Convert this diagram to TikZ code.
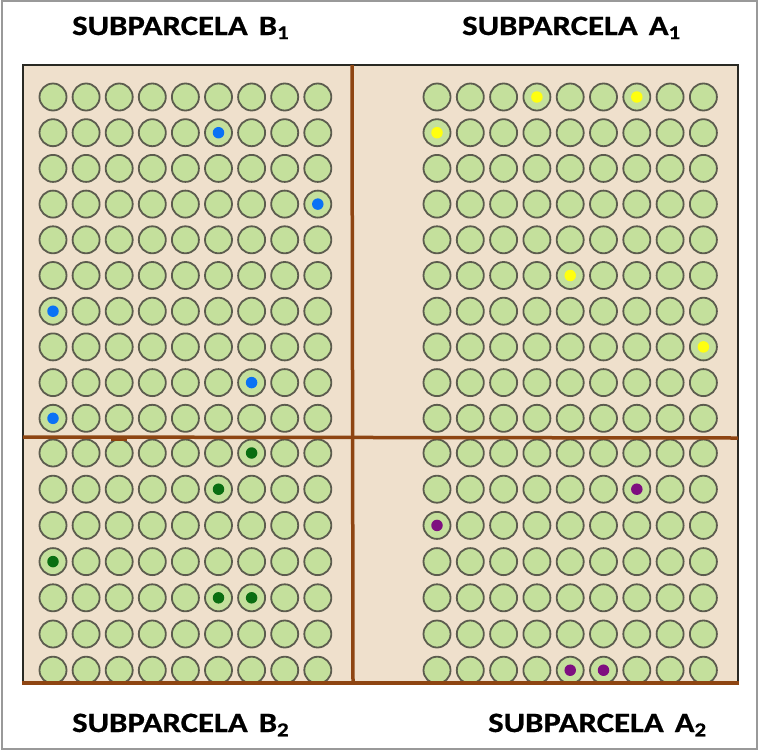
\documentclass[tikz,border=0pt]{standalone}
\usepackage{fontspec}
\setmainfont{Carlito}
\newfontfamily\titlefont[FakeStretch=1.17,FakeBold=0.6]{Carlito}
\definecolor{soil}{HTML}{EFE0CC}
\definecolor{plant}{HTML}{C4E09C}
\definecolor{rim}{HTML}{5C5C4E}
\definecolor{fence}{HTML}{8E4512}
\definecolor{mkblue}{HTML}{0A72F5}
\definecolor{mkyellow}{HTML}{FFFF10}
\definecolor{mkgreen}{HTML}{0A6E12}
\definecolor{mkpurple}{HTML}{7E0F80}
\tikzset{
  plantc/.style={draw=rim,fill=plant,line width=1.8pt},
  markdot/.style={circle,inner sep=0pt,minimum size=11.5pt},
  title/.style={anchor=base west,inner sep=0pt,font=\titlefont\bfseries\fontsize{28}{30}\selectfont}
}
\begin{document}
\begin{tikzpicture}[x=1pt,y=-1pt]
  \useasboundingbox (0,0) rectangle (759,750);
  \draw[gray!80,line width=1.5pt] (2,1) rectangle (757,749);

  %field
  \fill[soil] (23,65) rectangle (738,683);
  \draw[rim!45!black,line width=1.5pt] (23,683) -- (23,65) -- (738,65) -- (738,683);

  %plants
  \foreach \i in {1,...,10}{
    \foreach \j in {1,...,9}{
      \draw[plantc] ({53+33.1*(\j-1)},{97+35.7*(\i-1)}) circle (13.5);
      \draw[plantc] ({437+33.3*(\j-1)},{97+35.7*(\i-1)}) circle (13.5);
    }
  }
  \foreach \i in {1,...,7}{
    \foreach \j in {1,...,9}{
      \draw[plantc] ({53+33.1*(\j-1)},{453+36.2*(\i-1)}) circle (13.5);
      \draw[plantc] ({437+33.3*(\j-1)},{453+36.2*(\i-1)}) circle (13.5);
    }
  }

  %marked plants
  \foreach \r/\c/\col in {2/6/mkblue,4/9/mkblue,7/1/mkblue,9/7/mkblue,10/1/mkblue}
    \node[markdot,fill=\col] at ({53+33.1*(\c-1)},{97+35.7*(\r-1)}) {};
  \foreach \r/\c/\col in {1/4/mkyellow,1/7/mkyellow,2/1/mkyellow,6/5/mkyellow,8/9/mkyellow}
    \node[markdot,fill=\col] at ({437+33.3*(\c-1)},{97+35.7*(\r-1)}) {};
  \foreach \r/\c/\col in {1/7/mkgreen,2/6/mkgreen,4/1/mkgreen,5/6/mkgreen,5/7/mkgreen}
    \node[markdot,fill=\col] at ({53+33.1*(\c-1)},{453+36.2*(\r-1)}) {};
  \foreach \r/\c/\col in {2/7/mkpurple,3/1/mkpurple,7/5/mkpurple,7/6/mkpurple}
    \node[markdot,fill=\col] at ({437+33.3*(\c-1)},{453+36.2*(\r-1)}) {};

  %dividers
  \draw[fence,line width=3.5pt] (352,65) -- (353,683);
  \draw[fence,line width=3.5pt] (23,437) -- (738,438);
  \draw[fence,line width=3.5pt] (22,683) -- (739,683);
  \fill[fence] (111,436) rectangle (127,441);

  %labels
  \node[title] (tb1) at (72,35) {SUBPARCELA\hspace{11pt}B\textsubscript{1}};
  \node[title] (ta1) at (462,35) {SUBPARCELA\hspace{11pt}A\textsubscript{1}};
  \node[title] (tb2) at (72,732) {SUBPARCELA\hspace{11pt}B\textsubscript{2}};
  \node[title] (ta2) at (488,732) {SUBPARCELA\hspace{11pt}A\textsubscript{2}};
\end{tikzpicture}
\end{document}
